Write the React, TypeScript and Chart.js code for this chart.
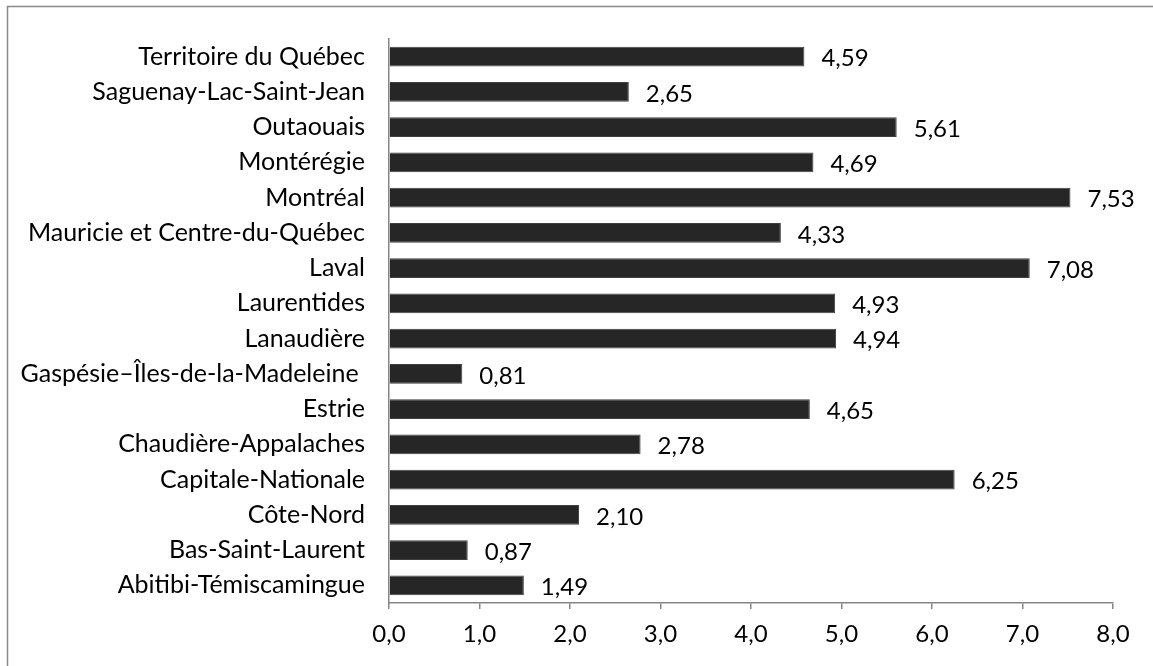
import React, { useEffect, useRef } from "react";
import { Chart, registerables } from "chart.js";

Chart.register(...registerables);

const categories: string[] = [
  "Territoire du Québec",
  "Saguenay-Lac-Saint-Jean",
  "Outaouais",
  "Montérégie",
  "Montréal",
  "Mauricie et Centre-du-Québec",
  "Laval",
  "Laurentides",
  "Lanaudière",
  "Gaspésie–Îles-de-la-Madeleine ",
  "Estrie",
  "Chaudière-Appalaches",
  "Capitale-Nationale",
  "Côte-Nord",
  "Bas-Saint-Laurent",
  "Abitibi-Témiscamingue",
];

const values: number[] = [4.59, 2.65, 5.61, 4.69, 7.53, 4.33, 7.08, 4.93, 4.94, 0.81, 4.65, 2.78, 6.25, 2.1, 0.87, 1.49];

const xMin = 0;
const xMax = 8;
const xStep = 1;

const FONT = "Lato, 'Open Sans', sans-serif";
const FSIZE = 24;

const fmt = (v: number, d: number) => v.toFixed(d).replace(".", ",");

const framePlugin = {
  id: "frame",
  beforeDraw(chart: any) {
    const ctx = chart.ctx;
    ctx.save();
    ctx.fillStyle = "#ffffff";
    ctx.fillRect(0, 0, chart.width, chart.height);
    ctx.strokeStyle = "#898989";
    ctx.lineWidth = 1.5;
    ctx.strokeRect(7.5, 6.5, chart.width + 20, chart.height + 20);
    ctx.restore();
  },
};

const valueLabels = {
  id: "valueLabels",
  afterDatasetsDraw(chart: any) {
    const ctx = chart.ctx;
    const meta = chart.getDatasetMeta(0);
    ctx.save();
    ctx.font = `${FSIZE}px ${FONT}`;
    ctx.fillStyle = "#000000";
    ctx.textAlign = "left";
    ctx.textBaseline = "middle";
    meta.data.forEach((bar: any, i: number) => {
      ctx.fillText(fmt(values[i], 2), bar.x + 17, bar.y + 2);
    });
    ctx.restore();
  },
};

export default function App() {
  const ref = useRef<HTMLCanvasElement | null>(null);
  useEffect(() => {
    if (!ref.current) return;
    const chart = new Chart(ref.current, {
      type: "bar",
      data: {
        labels: categories,
        datasets: [
          {
            data: values,
            backgroundColor: "#262626",
            borderColor: "#3f3f3f",
            borderWidth: 1,
            barPercentage: 0.56,
            categoryPercentage: 1,
          },
        ],
      },
      options: {
        indexAxis: "y",
        animation: false,
        responsive: false,
        maintainAspectRatio: false,
        layout: { padding: { top: 35, right: 40, bottom: 0, left: 0 } },
        plugins: {
          legend: { display: false },
          tooltip: { enabled: false },
        },
        scales: {
          x: {
            min: xMin,
            max: xMax,
            afterFit(scale: any) {
              scale.height = 63;
            },
            ticks: {
              stepSize: xStep,
              color: "#000000",
              font: { family: FONT, size: FSIZE },
              padding: 11,
              callback: (v: any) => fmt(Number(v), 1),
            },
            grid: {
              drawOnChartArea: false,
              drawTicks: true,
              tickLength: 6,
              color: "#868686",
              lineWidth: 1.5,
            },
            border: { color: "#868686", width: 1.5 },
          },
          y: {
            afterFit(scale: any) {
              scale.width = 389;
            },
            ticks: {
              color: "#000000",
              font: { family: FONT, size: 25 },
              padding: 24,
              autoSkip: false,
            },
            grid: { display: false, drawTicks: false },
            border: { color: "#868686", width: 1.5 },
          },
        },
      },
      plugins: [framePlugin, valueLabels],
    });
    return () => chart.destroy();
  }, []);
  return (
    <div style={{ position: "fixed", left: 0, top: 0, width: 1153, height: 666 }}>
      <canvas ref={ref} width={1153} height={666} style={{ width: 1153, height: 666 }} />
    </div>
  );
}
